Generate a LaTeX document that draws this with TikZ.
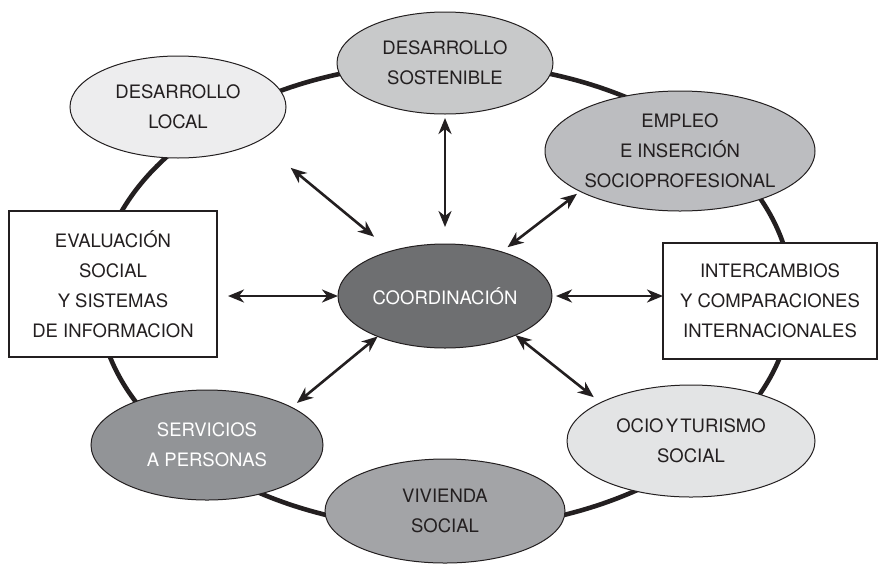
\documentclass[tikz,border=0pt]{standalone}
\usepackage{fontspec}
\setmainfont{TeX Gyre Heros}
\usetikzlibrary{shapes.geometric,arrows.meta,calc}

\definecolor{cLocal}{HTML}{EDEDEE}
\definecolor{cSost}{HTML}{C8C9CA}
\definecolor{cEmpleo}{HTML}{BCBDC0}
\definecolor{cCoord}{HTML}{6E6F71}
\definecolor{cServ}{HTML}{929497}
\definecolor{cViv}{HTML}{A3A4A7}
\definecolor{cOcio}{HTML}{E3E4E5}
\definecolor{ink}{HTML}{231F20}

\tikzset{
  every node/.style={font=\fontsize{18.5}{30}\selectfont, align=center, text=ink},
  oval/.style={ellipse, draw=ink, line width=1pt, inner sep=0pt, outer sep=0pt},
  panel/.style={rectangle, draw=ink, line width=1.3pt, fill=white, inner sep=0pt, outer sep=0pt},
  ring/.style={draw=ink, line width=4.6pt},
  arr/.style={draw=ink, line width=2.6pt,
    {Stealth[length=16pt,width=13pt,inset=5pt]}-{Stealth[length=16pt,width=13pt,inset=5pt]}},
}

\begin{document}
\begin{tikzpicture}[x=1pt,y=-1pt]
  \useasboundingbox (0,0) rectangle (880,563);

  % outer ring linking every field
  \draw[ring] (445,296) ellipse [x radius=347pt, y radius=233pt];

  % fields around the ring
  \node[oval, fill=cLocal, minimum width=216pt, minimum height=102pt] (lo) at (178,107) {DESARROLLO\\LOCAL};
  \node[oval, fill=cSost, minimum width=216pt, minimum height=102pt] (so) at (445,63) {DESARROLLO\\SOSTENIBLE};
  \node[oval, fill=cEmpleo, minimum width=270pt, minimum height=120pt] (em) at (680,151) {EMPLEO\\E INSERCIÓN\\SOCIOPROFESIONAL};
  \node[panel, minimum width=208pt, minimum height=146pt] (ev) at (113,284) {EVALUACIÓN\\SOCIAL\\Y SISTEMAS\\DE INFORMACION};
  \node[panel, minimum width=214pt, minimum height=116pt] (in) at (770,301) {INTERCAMBIOS\\Y COMPARACIONES\\INTERNACIONALES};
  \node[oval, fill=cServ, minimum width=232pt, minimum height=110pt, text=white] (se) at (207,445) {SERVICIOS\\A PERSONAS};
  \node[oval, fill=cViv, minimum width=240pt, minimum height=104pt] (vi) at (445,511) {VIVIENDA\\SOCIAL};
  \node[oval, fill=cOcio, minimum width=248pt, minimum height=112pt] (oc) at (691,441) {OCIO\hspace{0.12em}Y\hspace{0.12em}TURISMO\\SOCIAL};

  % central hub
  \node[oval, fill=cCoord, minimum width=214pt, minimum height=104pt, text=white] (co) at (445,296) {COORDINACIÓN};

  % two-way links between the hub and the fields
  \draw[arr, shorten <=22.5pt, shorten >=42pt] (co.140.7) -- (lo.-23.2);
  \draw[arr, shorten <=17pt, shorten >=4pt] (co.north) -- (so.south);
  \draw[arr, shorten <=7.6pt, shorten >=4pt] (co.38.3) -- (em.-158.8);
  \draw[arr, shorten <=11pt] (ev.east |- co) -- (co.west);
  \draw[arr, shorten <=4pt] (co.east) -- (co.east -| in.west);
  \draw[arr, shorten >=7pt] (co.211.8) -- (se.24);
  \draw[arr, shorten >=8.8pt] (co.-29.1) -- (oc.157.9);
\end{tikzpicture}
\end{document}
